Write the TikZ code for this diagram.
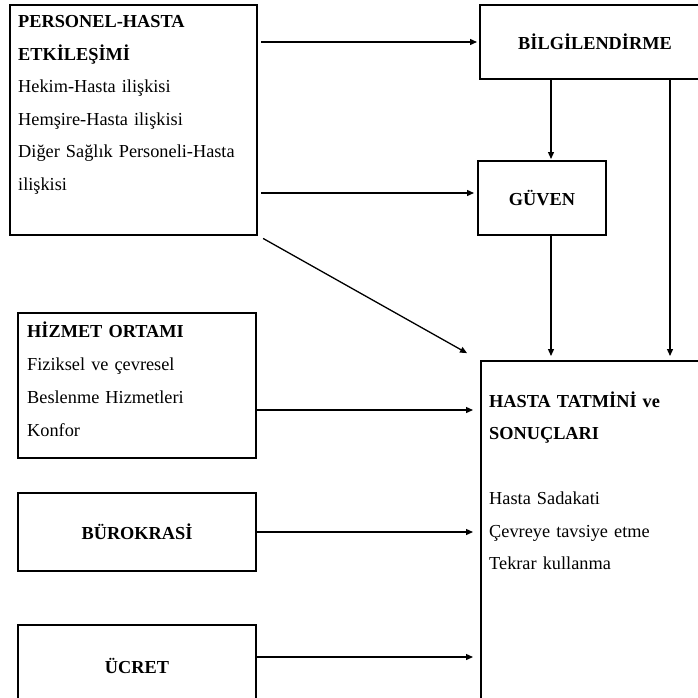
\documentclass[tikz,border=0pt]{standalone}
\usepackage{fontspec}
\setmainfont{Liberation Serif}
\usetikzlibrary{calc,positioning,arrows.meta}

\tikzset{
  kutu/.style={draw, line width=2.2pt, inner sep=0pt, outer sep=0pt, anchor=north west},
  yazi/.style={anchor=base west, inner sep=0pt, text width=#1, align=left},
  ok/.style={line width=1.3pt, -{Triangle[length=7pt,width=6pt]}},
}

\begin{document}
\begin{tikzpicture}[x=1pt, y=-1pt, font=\fontsize{18.3}{32.5}\selectfont]
  \path[use as bounding box, clip] (0,0) rectangle (698,698);
  % kutular
  \node[kutu, minimum width=247pt, minimum height=230pt] (pers) at (10,5) {};
  \node[kutu, minimum width=230pt, minimum height=74pt] (bilgi) at (480,5) {\textbf{BİLGİLENDİRME}};
  \node[kutu, minimum width=128pt, minimum height=74pt] (guven) at (478,161) {\textbf{GÜVEN}};
  \node[kutu, minimum width=238pt, minimum height=145pt] (hizmet) at (18,313) {};
  \node[kutu, minimum width=238pt, minimum height=78pt] (buro) at (18,493) {\textbf{BÜROKRASİ}};
  \node[kutu, minimum width=238pt, minimum height=82pt] (ucret) at (18,625) {\textbf{ÜCRET}};
  \node[kutu, minimum width=230pt, minimum height=350pt] (tatmin) at (481,361) {};
  % kutu yazilari
  \node[yazi=240pt] (perstxt) at (18,28) {\textbf{PERSONEL-HASTA}\\ \textbf{ETKİLEŞİMİ}\\ Hekim-Hasta ilişkisi\\ Hemşire-Hasta ilişkisi\\ Diğer Sağlık Personeli-Hasta\\ ilişkisi};
  \node[yazi=220pt, font=\fontsize{18.3}{33.3}\selectfont] (hizmettxt) at (27,337) {\textbf{HİZMET ORTAMI}\\ Fiziksel ve çevresel\\ Beslenme Hizmetleri\\ Konfor};
  \node[yazi=210pt] (tatmintxt) at (489,407) {\textbf{HASTA TATMİNİ ve}\\ \textbf{SONUÇLARI}\\[32.5pt] Hasta Sadakati\\ Çevreye tavsiye etme\\ Tekrar kullanma};
  % oklar
  \coordinate (g) at ([yshift=5pt]guven.west);
  \coordinate (ax) at (551,0);
  \coordinate (bx) at (670,0);
  \draw[ok, shorten <=4pt, shorten >=3pt] (pers.east |- bilgi.west) -- (bilgi.west);
  \draw[ok, shorten <=4pt, shorten >=4pt] (pers.east |- g) -- (g);
  \draw[ok, shorten <=7pt, shorten >=16pt] (pers.south east) -- (tatmin.north west);
  \draw[ok, shorten >=2pt] (bilgi.south -| ax) -- (guven.north -| ax);
  \draw[ok, shorten >=5pt] (guven.south -| ax) -- (tatmin.north -| ax);
  \draw[ok, shorten >=5pt] (bilgi.south -| bx) -- (tatmin.north -| bx);
  \foreach \k/\d in {hizmet/-24.5, buro/0, ucret/9} {
    \coordinate (s) at ([yshift=\d pt]\k.east);
    \draw[ok, shorten >=8pt] (s) -- (s -| tatmin.west);
  };
\end{tikzpicture}
\end{document}
